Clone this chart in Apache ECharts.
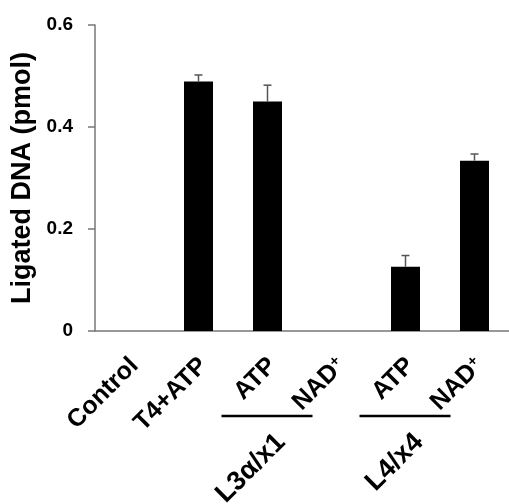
<!DOCTYPE html>
<html>
<head>
<meta charset="utf-8">
<script src="https://cdn.jsdelivr.net/npm/echarts@6/dist/echarts.min.js"></script>
<style>
  html, body { margin: 0; padding: 0; background: #fff; }
  #chart { width: 509px; height: 504px; }
</style>
</head>
<body>
<div id="chart"></div>
<script>
// categories along x (NAD+ gets a superscript plus)
const categories = ["Control", "T4+ATP", "ATP", "NAD+", "ATP", "NAD+"];
// ligated DNA (pmol), mean and upper error
const values = [0, 0.489, 0.45, 0, 0.126, 0.334];
const errors = [0, 0.013, 0.032, 0, 0.022, 0.013];
// ligase groups under the axis labels
const groupNames = ["L3α/x1", "L4/x4"];
const groupFrom = [2, 4];
const groupTo = [3, 5];
const yTicks = [0, 0.2, 0.4, 0.6];

const font = "Liberation Sans, Arial, sans-serif";
const chart = echarts.init(document.getElementById("chart"));

const option = {
  animation: false,
  backgroundColor: "#fff",
  textStyle: { fontFamily: font },
  grid: { left: 95, top: 25, width: 420, height: 306, containLabel: false },
  xAxis: {
    type: "category",
    data: categories,
    axisLine: { lineStyle: { color: "#777", width: 1.5 } },
    axisTick: { show: false },
    axisLabel: {
      rotate: 45,
      margin: 26,
      interval: 0,
      padding: [14, 0, 0, 0],
      formatter: (v) =>
        v.endsWith("+") ? "{b|" + v.slice(0, -1) + "}{s|+}" : "{b|" + v + "}",
      rich: {
        b: { fontSize: 25, fontWeight: "bold", color: "#000", fontFamily: font },
        s: { fontSize: 15, fontWeight: "bold", color: "#000", fontFamily: font, verticalAlign: "top" },
      },
    },
  },
  yAxis: {
    type: "value",
    min: yTicks[0],
    max: yTicks[yTicks.length - 1],
    interval: 0.2,
    name: "Ligated DNA (pmol)",
    nameLocation: "middle",
    nameGap: 55,
    nameTextStyle: { fontSize: 27, fontWeight: "bold", color: "#000", fontFamily: font },
    axisLine: { show: true, lineStyle: { color: "#777", width: 1.5 } },
    axisTick: { show: true, length: 7, lineStyle: { color: "#777", width: 1.5 } },
    splitLine: { show: false },
    axisLabel: {
      margin: 22,
      fontSize: 19,
      fontWeight: "bold",
      color: "#000",
      formatter: (v) => (v === 0 ? "0" : v.toFixed(1)),
    },
  },
  series: [
    {
      type: "bar",
      data: values,
      barWidth: 29,
      itemStyle: { color: "#000" },
      z: 2,
    },
    {
      type: "custom",
      z: 3,
      data: values.map((v, i) => [i, v, v + errors[i]]),
      renderItem: (params, api) => {
        if (api.value(2) <= api.value(1)) return;
        const base = api.coord([api.value(0), api.value(1)]);
        const top = api.coord([api.value(0), api.value(2)]);
        const half = 4;
        const style = { stroke: "#555", lineWidth: 1.5 };
        return {
          type: "group",
          children: [
            { type: "line", shape: { x1: base[0], y1: base[1], x2: top[0], y2: top[1] }, style },
            { type: "line", shape: { x1: top[0] - half, y1: top[1], x2: top[0] + half, y2: top[1] }, style },
          ],
        };
      },
    },
  ],
};

chart.setOption(option);

// group brackets and names placed from the category axis
const lineY = 416;
const elements = [];
groupNames.forEach((name, g) => {
  const x1 = chart.convertToPixel({ xAxisIndex: 0 }, groupFrom[g]);
  const x2 = chart.convertToPixel({ xAxisIndex: 0 }, groupTo[g]);
  elements.push({
    type: "line",
    shape: { x1: x1 - 46, y1: lineY, x2: x2 - 24, y2: lineY },
    style: { stroke: "#000", lineWidth: 2.5 },
  });
  elements.push({
    type: "text",
    x: (x1 + x2) / 2 - 21,
    y: lineY + 22,
    rotation: Math.PI / 4,
    style: {
      text: name,
      x: 0,
      y: 0,
      align: "right",
      verticalAlign: "middle",
      fontSize: 27,
      fontWeight: "bold",
      fontFamily: font,
      fill: "#000",
    },
  });
});
chart.setOption({ graphic: elements });
</script>
</body>
</html>
